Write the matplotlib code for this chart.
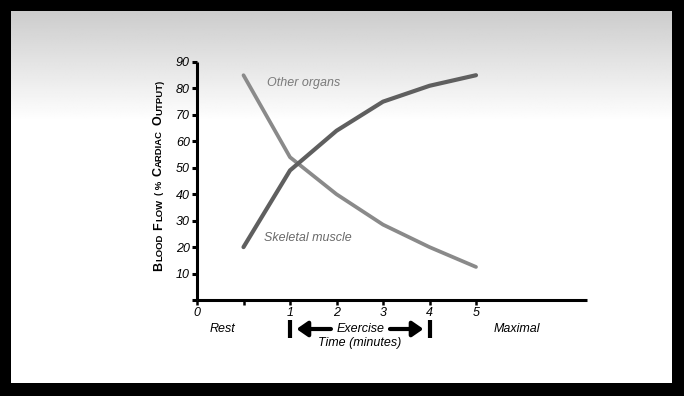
import matplotlib
matplotlib.use("Agg")
import matplotlib.pyplot as plt
import numpy as np
from matplotlib.transforms import blended_transform_factory

# ---- data ----
x_tick_labels = ["0", "", "1", "2", "3", "4", "5"]
stage_x = [1, 2, 3, 4, 5, 6]
skeletal_muscle = [20, 49, 64, 75, 81, 85]
other_organs = [85, 54, 40, 28.5, 20, 12.5]
y_ticks = [10, 20, 30, 40, 50, 60, 70, 80, 90]

W, H = 684, 396
fig = plt.figure(figsize=(W / 100, H / 100), dpi=100, facecolor="black")
FONT = ["Liberation Sans", "DejaVu Sans"]
TFS = 9

def fx(px):
    return px / W

def fy(py):
    return 1 - py / H

# ---- background panel with gradient ----
pl, pr, pt, pb = 11, 672, 11, 383
bg = fig.add_axes([fx(pl), fy(pb), fx(pr - pl), (pb - pt) / H])
n = pb - pt
top_px = np.arange(n)
grad = np.clip(0.80 + 0.20 * top_px / 110.0, 0, 1)
bg.imshow(np.tile(grad[:, None], (1, 10)), cmap="gray", vmin=0, vmax=1,
          aspect="auto", extent=[0, 1, 0, 1], interpolation="bilinear")
bg.set_axis_off()

# ---- main axes ----
x0_px, unit_px = 197, 46.5
xmax = (587 - x0_px) / unit_px
ax_bottom_px, ax_top_px = 300, 62
ax = fig.add_axes([fx(x0_px), fy(ax_bottom_px), fx(587 - x0_px),
                   (ax_bottom_px - ax_top_px) / H])
ax.patch.set_alpha(0)
ax.set_xlim(0, xmax)
ax.set_ylim(0, 90)

ax.plot(stage_x, other_organs, color="#8a8a8a", lw=2.7, solid_capstyle="round",
        solid_joinstyle="round", zorder=3)
ax.plot(stage_x, skeletal_muscle, color="#5f5f5f", lw=3.0, solid_capstyle="round",
        solid_joinstyle="round", zorder=4)

for s in ["top", "right"]:
    ax.spines[s].set_visible(False)
for s in ["left", "bottom"]:
    ax.spines[s].set_linewidth(2.2)
    ax.spines[s].set_color("black")
    ax.spines[s].set_capstyle("butt")

ax.set_yticks([0] + y_ticks)
ax.set_yticklabels([""] + [str(v) for v in y_ticks], fontstyle="italic",
                   fontsize=TFS, family=FONT)
ax.set_xticks(range(len(x_tick_labels)))
ax.set_xticklabels(x_tick_labels, fontstyle="italic", fontsize=TFS, family=FONT)
ax.tick_params(axis="y", direction="out", length=3.5, width=2.2, pad=1.5)
ax.tick_params(axis="x", direction="out", length=3.5, width=1.8, pad=1.5)

ax.text(1.5, 82, "Other organs", fontstyle="italic", fontsize=TFS, color="#7a7a7a",
        family=FONT, va="center", ha="left")
ax.text(1.45, 23.5, "Skeletal muscle", fontstyle="italic", fontsize=TFS,
        color="#6a6a6a", family=FONT, va="center", ha="left")

# ---- annotations under axis ----
tr = blended_transform_factory(ax.transData, fig.transFigure)
ax.text(0.55, fy(329), "Rest", transform=tr, fontstyle="italic", fontsize=TFS,
        family=FONT, ha="center", va="center")
ax.text(3.52, fy(329), "Exercise", transform=tr, fontstyle="italic", fontsize=TFS,
        family=FONT, ha="center", va="center")
ax.text(3.5, fy(343), "Time (minutes)", transform=tr, fontstyle="italic",
        fontsize=TFS, family=FONT, ha="center", va="center")
ax.text(6.88, fy(329), "Maximal", transform=tr, fontstyle="italic", fontsize=TFS,
        family=FONT, ha="center", va="center")
for xb in (2, 5):
    ax.plot([xb, xb], [fy(320), fy(338)], transform=tr, color="black", lw=3,
            solid_capstyle="butt", clip_on=False)
ax.annotate("", xy=(2.14, fy(329)), xytext=(2.88, fy(329)), xycoords=tr,
            textcoords=tr, arrowprops=dict(arrowstyle="-|>,head_length=0.65,head_width=0.45",
                                            lw=3, color="black", shrinkA=0, shrinkB=0))
ax.annotate("", xy=(4.87, fy(329)), xytext=(4.15, fy(329)), xycoords=tr,
            textcoords=tr, arrowprops=dict(arrowstyle="-|>,head_length=0.65,head_width=0.45",
                                            lw=3, color="black", shrinkA=0, shrinkB=0))

# ---- y label in small caps ----
fig.canvas.draw()
r = fig.canvas.get_renderer()
chunks = [("B", 9), ("LOOD", 6.8), (" ", 0), ("F", 9), ("LOW", 6.8), (" ( % ", 6.8),
          ("C", 9), ("ARDIAC", 6.8), (" ", 0), ("O", 9), ("UTPUT)", 6.8)]
bx = 162
by = 271
SP = 3.6
for s, fs in chunks:
    if s.strip() == "":
        by -= SP * len(s)
        continue
    lead = len(s) - len(s.lstrip(" "))
    trail = len(s) - len(s.rstrip(" "))
    by -= SP * lead
    core = s.strip(" ")
    t = fig.text(fx(bx), fy(by), core, rotation=90, rotation_mode="anchor",
                 ha="left", va="baseline", fontsize=fs, fontweight="bold",
                 family=FONT, color="black")
    bb = t.get_window_extent(r)
    by -= bb.height + 0.7
    by -= SP * trail

fig.savefig("out.png", dpi=100, facecolor="black")
